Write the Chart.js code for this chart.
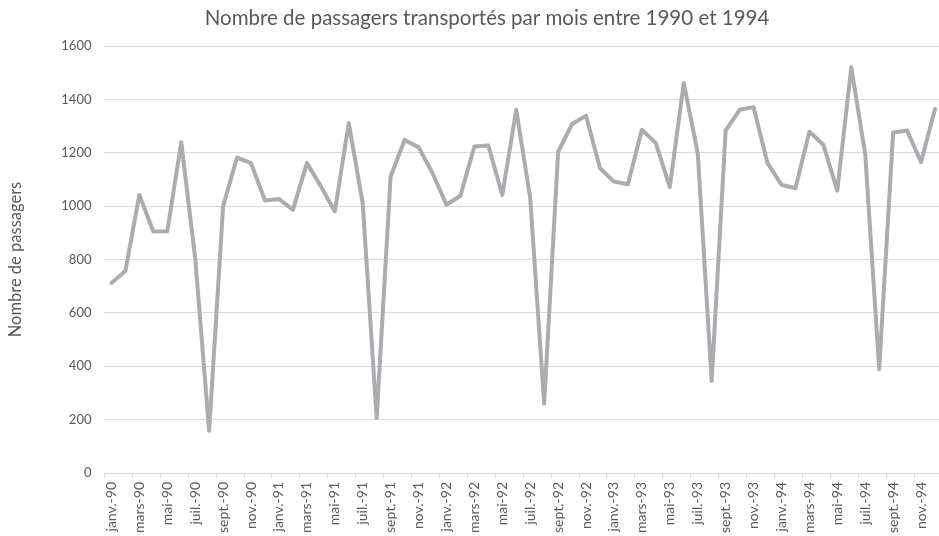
<!DOCTYPE html>
<html lang="fr">
<head>
<meta charset="utf-8">
<script src="https://cdn.jsdelivr.net/npm/chart.js@4"></script>
<style>
  html, body { margin: 0; padding: 0; background: #fff; }
  #clip { width: 939px; height: 536px; overflow: hidden; }
  #wrap { width: 974px; height: 536px; position: relative; }
</style>
</head>
<body>
<div id="clip"><div id="wrap"><canvas id="passagersChart"></canvas></div></div>
<script>
// Month names and years used for the category axis
const mois = ['janv.', 'févr.', 'mars', 'avr.', 'mai', 'juin',
    'juil.', 'août', 'sept.', 'oct.', 'nov.', 'déc.'];
const annees = ['90', '91', '92', '93', '94'];

// Passengers per month, janv.-90 to déc.-94
const passagers = [
    712, 757, 1042, 905, 906, 1239, 805, 158, 1000, 1182, 1161, 1021,
    1027, 986, 1161, 1075, 980, 1311, 1011, 206, 1111, 1248, 1221, 1124,
    1005, 1039, 1223, 1227, 1042, 1361, 1030, 260, 1203, 1308, 1339, 1142,
    1092, 1082, 1286, 1236, 1071, 1461, 1200, 345, 1283, 1361, 1371, 1161,
    1080, 1067, 1279, 1230, 1058, 1520, 1195, 389, 1276, 1283, 1165, 1364
];

// Labels like "janv.-90"
const labels = [];
annees.forEach(a => mois.forEach(m => labels.push(m + '-' + a)));

const gris = '#595959';
const grille = '#d9d9d9';

const ctx = document.getElementById('passagersChart').getContext('2d');
new Chart(ctx, {
    type: 'line',
    data: {
        labels: labels,
        datasets: [{
            label: 'Passagers',
            data: passagers,
            borderColor: '#abacb0',
            borderWidth: 4,
            borderJoinStyle: 'round',
            borderCapStyle: 'round',
            pointRadius: 0,
            fill: false,
            tension: 0
        }]
    },
    options: {
        responsive: true,
        maintainAspectRatio: false,
        animation: false,
        plugins: {
            legend: { display: false },
            tooltip: { enabled: false },
            title: {
                display: true,
                text: 'Nombre de passagers transportés par mois entre 1990 et 1994',
                color: gris,
                font: { family: 'Lato', size: 20.5, weight: 'normal' },
                padding: { top: 5.7, bottom: 15.7 }
            }
        },
        scales: {
            x: {
                offset: true,
                grid: {
                    offset: true,
                    drawOnChartArea: false,
                    drawTicks: true,
                    tickLength: 5,
                    color: c => (c.index % 2 === 0 ? grille : 'rgba(0,0,0,0)')
                },
                border: { color: grille, width: 1 },
                ticks: {
                    autoSkip: false,
                    minRotation: 90,
                    maxRotation: 90,
                    padding: 4,
                    color: gris,
                    font: { family: 'Lato', size: 14 },
                    callback: function(val, i) {
                        return i % 2 === 0 ? this.getLabelForValue(val) : '';
                    }
                },
                afterFit: function(scale) {
                    scale.height = 63;
                }
            },
            y: {
                min: 0,
                max: 1600,
                grid: { color: grille, drawTicks: false },
                border: { display: false },
                ticks: {
                    stepSize: 200,
                    padding: 13,
                    color: gris,
                    font: { family: 'Lato', size: 13 },
                    callback: v => String(v)
                },
                title: {
                    display: true,
                    text: 'Nombre de passagers',
                    color: gris,
                    font: { family: 'Lato', size: 16.5 },
                    padding: { top: 6.1, bottom: 22.4 }
                }
            },
            // empty right margin, so the title stays centred on the whole chart
            marge: {
                type: 'linear',
                position: 'right',
                grid: { display: false },
                border: { display: false },
                ticks: { display: false },
                afterFit: function(scale) {
                    scale.width = 32;
                }
            }
        }
    }
});
</script>
</body>
</html>
